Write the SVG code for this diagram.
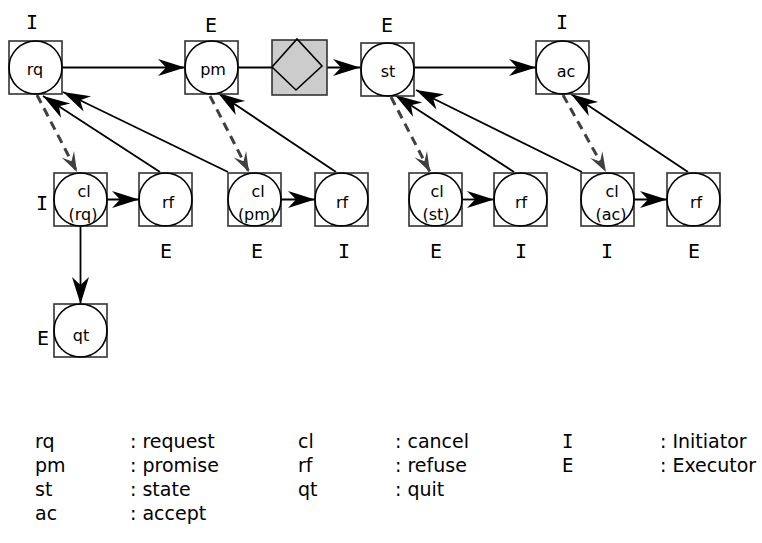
<svg xmlns="http://www.w3.org/2000/svg" width="762" height="543" viewBox="0 0 762 543">
<style>
text{font-family:"DejaVu Sans","Liberation Sans",sans-serif;fill:#000}
.lbl{font-size:16px;text-anchor:middle}
.role{font-family:"DejaVu Sans Mono","Liberation Mono",monospace;font-size:20px;text-anchor:middle}
.leg{font-size:19px}
.legm{font-family:"DejaVu Sans Mono","Liberation Mono",monospace}
.box{fill:#fff;stroke:#333;stroke-width:1.6}
.circ{fill:none;stroke:#000;stroke-width:1.6}
.sol{fill:none;stroke:#000;stroke-width:1.8}
.dash{fill:none;stroke:#404040;stroke-width:3;stroke-dasharray:9 6}
</style>
<defs>
<marker id="ah" markerUnits="userSpaceOnUse" viewBox="-28 -10 29 20" markerWidth="29" markerHeight="20" refX="0" refY="0" orient="auto">
<path d="M0,0 L-27,-8.5 L-19,0 L-27,8.5 Z" fill="#000"/>
</marker>
<marker id="ahd" markerUnits="userSpaceOnUse" viewBox="-22 -9 23 18" markerWidth="23" markerHeight="18" refX="0" refY="0" orient="auto">
<path d="M0,0 L-20,-7 L-12,0 L-20,7 Z" fill="#404040"/>
</marker>
</defs>

<g id="connectors">
<line class="sol" x1="62" y1="67.5" x2="185" y2="67.5" marker-end="url(#ah)"/>
<line class="sol" x1="238" y1="67.5" x2="272" y2="67.5"/>
<line class="sol" x1="327" y1="67.5" x2="360" y2="67.5" marker-end="url(#ah)"/>
<line class="sol" x1="414" y1="67.5" x2="536" y2="67.5" marker-end="url(#ah)"/>

<line class="dash" x1="37" y1="95" x2="77" y2="172" marker-end="url(#ahd)"/>
<line class="sol" x1="160" y1="172" x2="43" y2="96" marker-end="url(#ah)"/>
<line class="sol" x1="228" y1="172" x2="63" y2="92" marker-end="url(#ah)"/>

<line class="dash" x1="210" y1="96" x2="249" y2="172" marker-end="url(#ahd)"/>
<line class="sol" x1="336" y1="172" x2="218" y2="93" marker-end="url(#ah)"/>

<line class="dash" x1="391" y1="97" x2="430" y2="172" marker-end="url(#ahd)"/>
<line class="sol" x1="514" y1="172" x2="395" y2="95" marker-end="url(#ah)"/>
<line class="sol" x1="582" y1="172" x2="416" y2="90" marker-end="url(#ah)"/>

<line class="dash" x1="563" y1="95" x2="606" y2="172" marker-end="url(#ahd)"/>
<line class="sol" x1="688" y1="172" x2="571" y2="94" marker-end="url(#ah)"/>

<line class="sol" x1="104" y1="199.5" x2="139" y2="199.5" marker-end="url(#ah)"/>
<line class="sol" x1="281" y1="199.5" x2="315" y2="199.5" marker-end="url(#ah)"/>
<line class="sol" x1="462" y1="199.5" x2="494" y2="199.5" marker-end="url(#ah)"/>
<line class="sol" x1="633" y1="199.5" x2="667" y2="199.5" marker-end="url(#ah)"/>

<line class="sol" x1="80.5" y1="226" x2="80.5" y2="304" marker-end="url(#ah)"/>
</g>

<g id="rq">
<rect class="box" x="9" y="41" width="53" height="53"/>
<circle class="circ" cx="35.5" cy="67.5" r="26.5"/>
<text class="lbl" x="35" y="75">rq</text>
<text class="role" x="32" y="29">I</text>
</g>
<g id="pm">
<rect class="box" x="185" y="41" width="53" height="53"/>
<circle class="circ" cx="211.5" cy="67.5" r="26.5"/>
<text class="lbl" x="213" y="75">pm</text>
<text class="role" x="211" y="32">E</text>
</g>
<g id="gate">
<rect x="272" y="40" width="55" height="55" fill="#cccccc" stroke="#333" stroke-width="1.6"/>
<path d="M272,67 L297,39 L322,66 L296,90 Z" fill="none" stroke="#000" stroke-width="1.6"/>
</g>
<g id="st">
<rect class="box" x="361" y="43" width="53" height="53"/>
<circle class="circ" cx="387.5" cy="69.5" r="26.5"/>
<text class="lbl" x="388" y="77">st</text>
<text class="role" x="387" y="32">E</text>
</g>
<g id="ac">
<rect class="box" x="536" y="41" width="53" height="53"/>
<circle class="circ" cx="562.5" cy="67.5" r="26.5"/>
<text class="lbl" x="566" y="77">ac</text>
<text class="role" x="562" y="29">I</text>
</g>

<g id="cl_rq">
<rect class="box" x="54" y="173" width="53" height="53"/>
<circle class="circ" cx="80.5" cy="199.5" r="26.5"/>
<text class="lbl" x="84" y="197">cl</text>
<text class="lbl" x="83" y="220">(rq)</text>
<text class="role" x="42" y="210">I</text>
</g>
<g id="rf_rq">
<rect class="box" x="139" y="173" width="53" height="53"/>
<circle class="circ" cx="165.5" cy="199.5" r="26.5"/>
<text class="lbl" x="168" y="208">rf</text>
<text class="role" x="166" y="258">E</text>
</g>
<g id="cl_pm">
<rect class="box" x="228" y="173" width="53" height="53"/>
<circle class="circ" cx="254.5" cy="199.5" r="26.5"/>
<text class="lbl" x="258" y="197">cl</text>
<text class="lbl" x="257" y="220">(pm)</text>
<text class="role" x="257" y="258">E</text>
</g>
<g id="rf_pm">
<rect class="box" x="315" y="173" width="53" height="53"/>
<circle class="circ" cx="341.5" cy="199.5" r="26.5"/>
<text class="lbl" x="342" y="208">rf</text>
<text class="role" x="344" y="258">I</text>
</g>
<g id="cl_st">
<rect class="box" x="409" y="173" width="53" height="53"/>
<circle class="circ" cx="435.5" cy="199.5" r="26.5"/>
<text class="lbl" x="437" y="197">cl</text>
<text class="lbl" x="436" y="220">(st)</text>
<text class="role" x="436" y="258">E</text>
</g>
<g id="rf_st">
<rect class="box" x="494" y="173" width="53" height="53"/>
<circle class="circ" cx="520.5" cy="199.5" r="26.5"/>
<text class="lbl" x="521" y="208">rf</text>
<text class="role" x="521" y="258">I</text>
</g>
<g id="cl_ac">
<rect class="box" x="581" y="173" width="53" height="53"/>
<circle class="circ" cx="607.5" cy="199.5" r="26.5"/>
<text class="lbl" x="612" y="197">cl</text>
<text class="lbl" x="611" y="220">(ac)</text>
<text class="role" x="607" y="258">I</text>
</g>
<g id="rf_ac">
<rect class="box" x="667" y="173" width="53" height="53"/>
<circle class="circ" cx="693.5" cy="199.5" r="26.5"/>
<text class="lbl" x="696" y="208">rf</text>
<text class="role" x="694" y="258">E</text>
</g>
<g id="qt">
<rect class="box" x="54" y="304" width="53" height="53"/>
<circle class="circ" cx="80.5" cy="330.5" r="26.5"/>
<text class="lbl" x="81" y="341">qt</text>
<text class="role" x="43" y="345">E</text>
</g>

<g id="legend" class="leg">
<text x="35" y="448">rq</text>
<text x="35" y="472">pm</text>
<text x="35" y="496">st</text>
<text x="35" y="520">ac</text>
<text x="130" y="448">: request</text>
<text x="130" y="472">: promise</text>
<text x="130" y="496">: state</text>
<text x="130" y="520">: accept</text>
<text x="298" y="448">cl</text>
<text x="298" y="472">rf</text>
<text x="298" y="496">qt</text>
<text x="395" y="448">: cancel</text>
<text x="395" y="472">: refuse</text>
<text x="395" y="496">: quit</text>
<text class="legm" x="562" y="448">I</text>
<text class="legm" x="562" y="472">E</text>
<text x="660" y="448">: Initiator</text>
<text x="660" y="472">: Executor</text>
</g>
</svg>
